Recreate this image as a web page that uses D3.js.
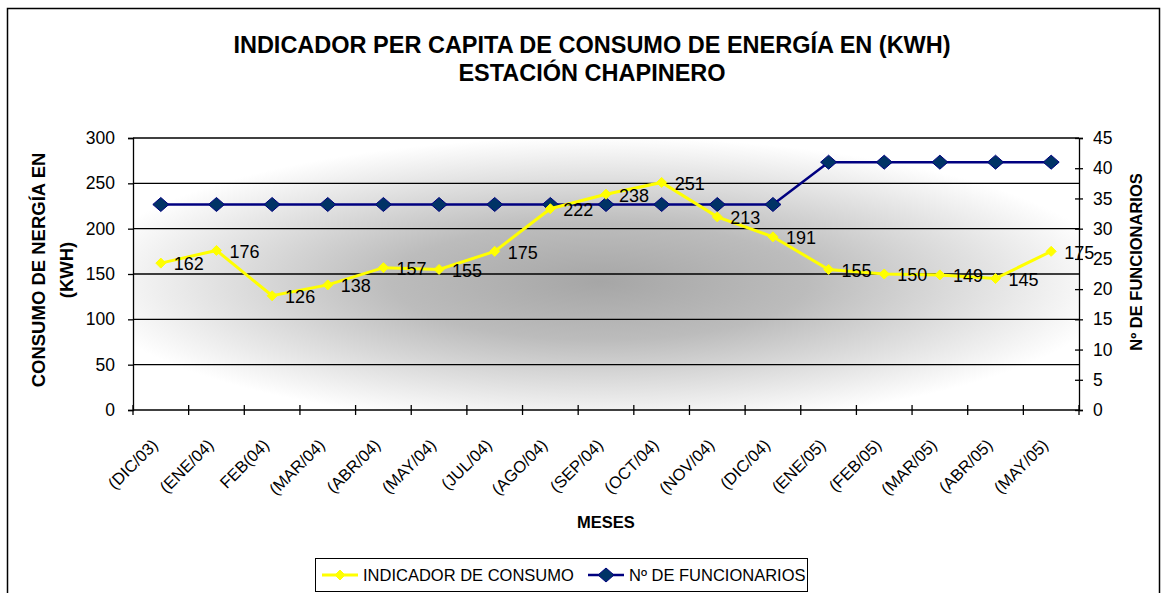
<!DOCTYPE html>
<html>
<head>
<meta charset="utf-8">
<script src="https://cdn.jsdelivr.net/npm/d3@7"></script>
<style>
  html, body { margin: 0; padding: 0; background: #fff; }
  svg { display: block; font-family: "Liberation Sans", Arial, sans-serif; }
</style>
</head>
<body>
<svg id="chart" width="1162" height="593"></svg>
<script>
// Months on the horizontal axis
const meses = ["(DIC/03)", "(ENE/04)", "FEB(04)", "(MAR/04)", "(ABR/04)", "(MAY/04)", "(JUL/04)",
  "(AGO/04)", "(SEP/04)", "(OCT/04)", "(NOV/04)", "(DIC/04)", "(ENE/05)", "(FEB/05)",
  "(MAR/05)", "(ABR/05)", "(MAY/05)"];

// Per-capita energy consumption (kWh), left axis
const consumo = [162, 176, 126, 138, 157, 155, 175, 222, 238, 251, 213, 191, 155, 150, 149, 145, 175];

// Number of staff, right axis
const funcionarios = [34, 34, 34, 34, 34, 34, 34, 34, 34, 34, 34, 34, 41, 41, 41, 41, 41];

// Axis ticks
const ticksIzq = [0, 50, 100, 150, 200, 250, 300];
const ticksDer = [0, 5, 10, 15, 20, 25, 30, 35, 40, 45];

const svg = d3.select("#chart");
const plot = { left: 133, right: 1079, top: 138, bottom: 410 };
const FONT = "Liberation Sans, Arial, sans-serif";

// Outer chart frame
svg.append("rect")
  .attr("x", 7.5).attr("y", 8.5)
  .attr("width", 1152).attr("height", 600)
  .attr("fill", "#fff").attr("stroke", "#000").attr("stroke-width", 1.5);

// Title
const title = svg.append("text")
  .attr("text-anchor", "middle")
  .attr("font-weight", "bold").attr("font-size", 23.5).attr("fill", "#000");
title.append("tspan").attr("x", 592).attr("y", 53).text("INDICADOR PER CAPITA DE CONSUMO DE ENERGÍA EN (KWH)");
title.append("tspan").attr("x", 592).attr("y", 81).text("ESTACIÓN CHAPINERO");

// Scales
const x = d3.scaleBand().domain(meses).range([plot.left, plot.right]).padding(0);
const yL = d3.scaleLinear().domain([0, 300]).range([plot.bottom, plot.top]);
const yR = d3.scaleLinear().domain([0, 45]).range([plot.bottom, plot.top]);
const cx = d => x(d) + x.bandwidth() / 2;

// Plot area fill: grey centre fading to white (elliptical)
const defs = svg.append("defs");
const grad = defs.append("radialGradient")
  .attr("id", "fondo")
  .attr("gradientUnits", "userSpaceOnUse")
  .attr("cx", 0).attr("cy", 0).attr("r", 1)
  .attr("gradientTransform", "translate(600,282) scale(520,145)");
[[0, "#a6a6a6"], [0.4, "#bcbcbc"], [0.75, "#e3e3e3"], [1, "#ffffff"]].forEach(([o, c]) =>
  grad.append("stop").attr("offset", o).attr("stop-color", c));

svg.append("rect")
  .attr("x", plot.left).attr("y", plot.top)
  .attr("width", plot.right - plot.left).attr("height", plot.bottom - plot.top)
  .attr("fill", "url(#fondo)");

// Horizontal gridlines
svg.append("g")
  .selectAll("line")
  .data(ticksIzq.filter(t => t > 0))
  .join("line")
  .attr("x1", plot.left).attr("x2", plot.right)
  .attr("y1", d => yL(d)).attr("y2", d => yL(d))
  .attr("stroke", "#000").attr("stroke-width", 1.3);

// Left axis
const axL = svg.append("g")
  .attr("transform", `translate(${plot.left},0)`)
  .call(d3.axisLeft(yL).tickValues(ticksIzq).tickSize(5).tickPadding(13));
axL.select(".domain").attr("stroke", "#000").attr("stroke-width", 1.3);
axL.selectAll(".tick line").attr("stroke", "#000").attr("stroke-width", 1.3);
axL.selectAll("text").attr("font-size", 17.5).attr("font-family", FONT).attr("fill", "#000");

// Right axis (ticks cross the axis line)
const axR = svg.append("g")
  .attr("transform", `translate(${plot.right},0)`)
  .call(d3.axisRight(yR).tickValues(ticksDer).tickSize(4).tickPadding(10));
axR.select(".domain").attr("stroke", "#000").attr("stroke-width", 1.3);
axR.selectAll(".tick line").attr("x1", -4).attr("stroke", "#000").attr("stroke-width", 1.3);
axR.selectAll("text").attr("font-size", 17.5).attr("font-family", FONT).attr("fill", "#000");

// Bottom axis: ticks on category boundaries, crossing the axis line
const bordes = meses.map(m => x(m)).concat([plot.right]);
svg.append("line")
  .attr("x1", plot.left).attr("x2", plot.right)
  .attr("y1", plot.bottom).attr("y2", plot.bottom)
  .attr("stroke", "#000").attr("stroke-width", 1.3);
svg.append("g").selectAll("line")
  .data(bordes)
  .join("line")
  .attr("x1", d => d).attr("x2", d => d)
  .attr("y1", plot.bottom - 5).attr("y2", plot.bottom + 5)
  .attr("stroke", "#000").attr("stroke-width", 1.3);

// Month labels, rotated
svg.append("g").selectAll("text")
  .data(meses)
  .join("text")
  .attr("transform", d => `translate(${cx(d) - 6},${plot.bottom + 32}) rotate(-45)`)
  .attr("text-anchor", "end")
  .attr("dy", "0.35em")
  .attr("font-size", 16.5).attr("fill", "#000")
  .text(d => d);

// Axis titles
svg.append("text")
  .attr("text-anchor", "middle").attr("font-weight", "bold").attr("font-size", 16.5)
  .attr("x", 606).attr("y", 528).text("MESES");

const tIzq = svg.append("text")
  .attr("transform", "translate(44.5,270) rotate(-90)")
  .attr("text-anchor", "middle").attr("font-weight", "bold").attr("font-size", 18.5);
tIzq.append("tspan").attr("x", 0).attr("y", 0).text("CONSUMO DE NERGÍA EN");
tIzq.append("tspan").attr("x", 0).attr("y", 28).text("(KWH)");

svg.append("text")
  .attr("transform", "translate(1142,262) rotate(-90)")
  .attr("text-anchor", "middle").attr("font-weight", "bold").attr("font-size", 16.5)
  .text("Nº DE FUNCIONARIOS");

// Staff series (right axis)
const lineR = d3.line().x((d, i) => cx(meses[i])).y(d => yR(d));
svg.append("path")
  .datum(funcionarios)
  .attr("d", lineR)
  .attr("fill", "none").attr("stroke", "#000080").attr("stroke-width", 2.5);

const diamond = (w, h) => `M0,${-h / 2}L${w / 2},0L0,${h / 2}L${-w / 2},0Z`;

svg.append("g").selectAll("path")
  .data(funcionarios)
  .join("path")
  .attr("transform", (d, i) => `translate(${cx(meses[i])},${yR(d)})`)
  .attr("d", diamond(16, 14))
  .attr("fill", "#003366").attr("stroke", "#000080").attr("stroke-width", 1);

// Consumption series (left axis)
const lineL = d3.line().x((d, i) => cx(meses[i])).y(d => yL(d));
svg.append("path")
  .datum(consumo)
  .attr("d", lineL)
  .attr("fill", "none").attr("stroke", "#ffff00").attr("stroke-width", 3);

svg.append("g").selectAll("path")
  .data(consumo)
  .join("path")
  .attr("transform", (d, i) => `translate(${cx(meses[i])},${yL(d)})`)
  .attr("d", diamond(10, 10))
  .attr("fill", "#ffff00").attr("stroke", "#ffff00").attr("stroke-width", 1);

// Value labels next to each consumption point
svg.append("g").selectAll("text")
  .data(consumo)
  .join("text")
  .attr("x", (d, i) => cx(meses[i]) + 13)
  .attr("y", d => yL(d) + 1)
  .attr("dy", "0.35em")
  .attr("font-size", 18).attr("fill", "#000")
  .text(d => d);

// Legend
const leg = svg.append("g");
leg.append("rect")
  .attr("x", 315.5).attr("y", 558.5).attr("width", 492).attr("height", 33)
  .attr("fill", "#fff").attr("stroke", "#000").attr("stroke-width", 1);

const items = [
  { label: "INDICADOR DE CONSUMO", color: "#ffff00", stroke: "#ffff00", w: 3, x0: 322, mk: diamond(10, 10) },
  { label: "Nº DE FUNCIONARIOS", color: "#003366", stroke: "#000080", w: 2.5, x0: 588, mk: diamond(16, 14) }
];
items.forEach(it => {
  leg.append("line")
    .attr("x1", it.x0).attr("x2", it.x0 + 36).attr("y1", 575).attr("y2", 575)
    .attr("stroke", it.stroke).attr("stroke-width", it.w);
  leg.append("path")
    .attr("transform", `translate(${it.x0 + 18},575)`)
    .attr("d", it.mk)
    .attr("fill", it.color).attr("stroke", it.stroke).attr("stroke-width", 1);
  leg.append("text")
    .attr("x", it.x0 + 41).attr("y", 575).attr("dy", "0.35em")
    .attr("font-size", 16.5).attr("fill", "#000")
    .text(it.label);
});
</script>
</body>
</html>
